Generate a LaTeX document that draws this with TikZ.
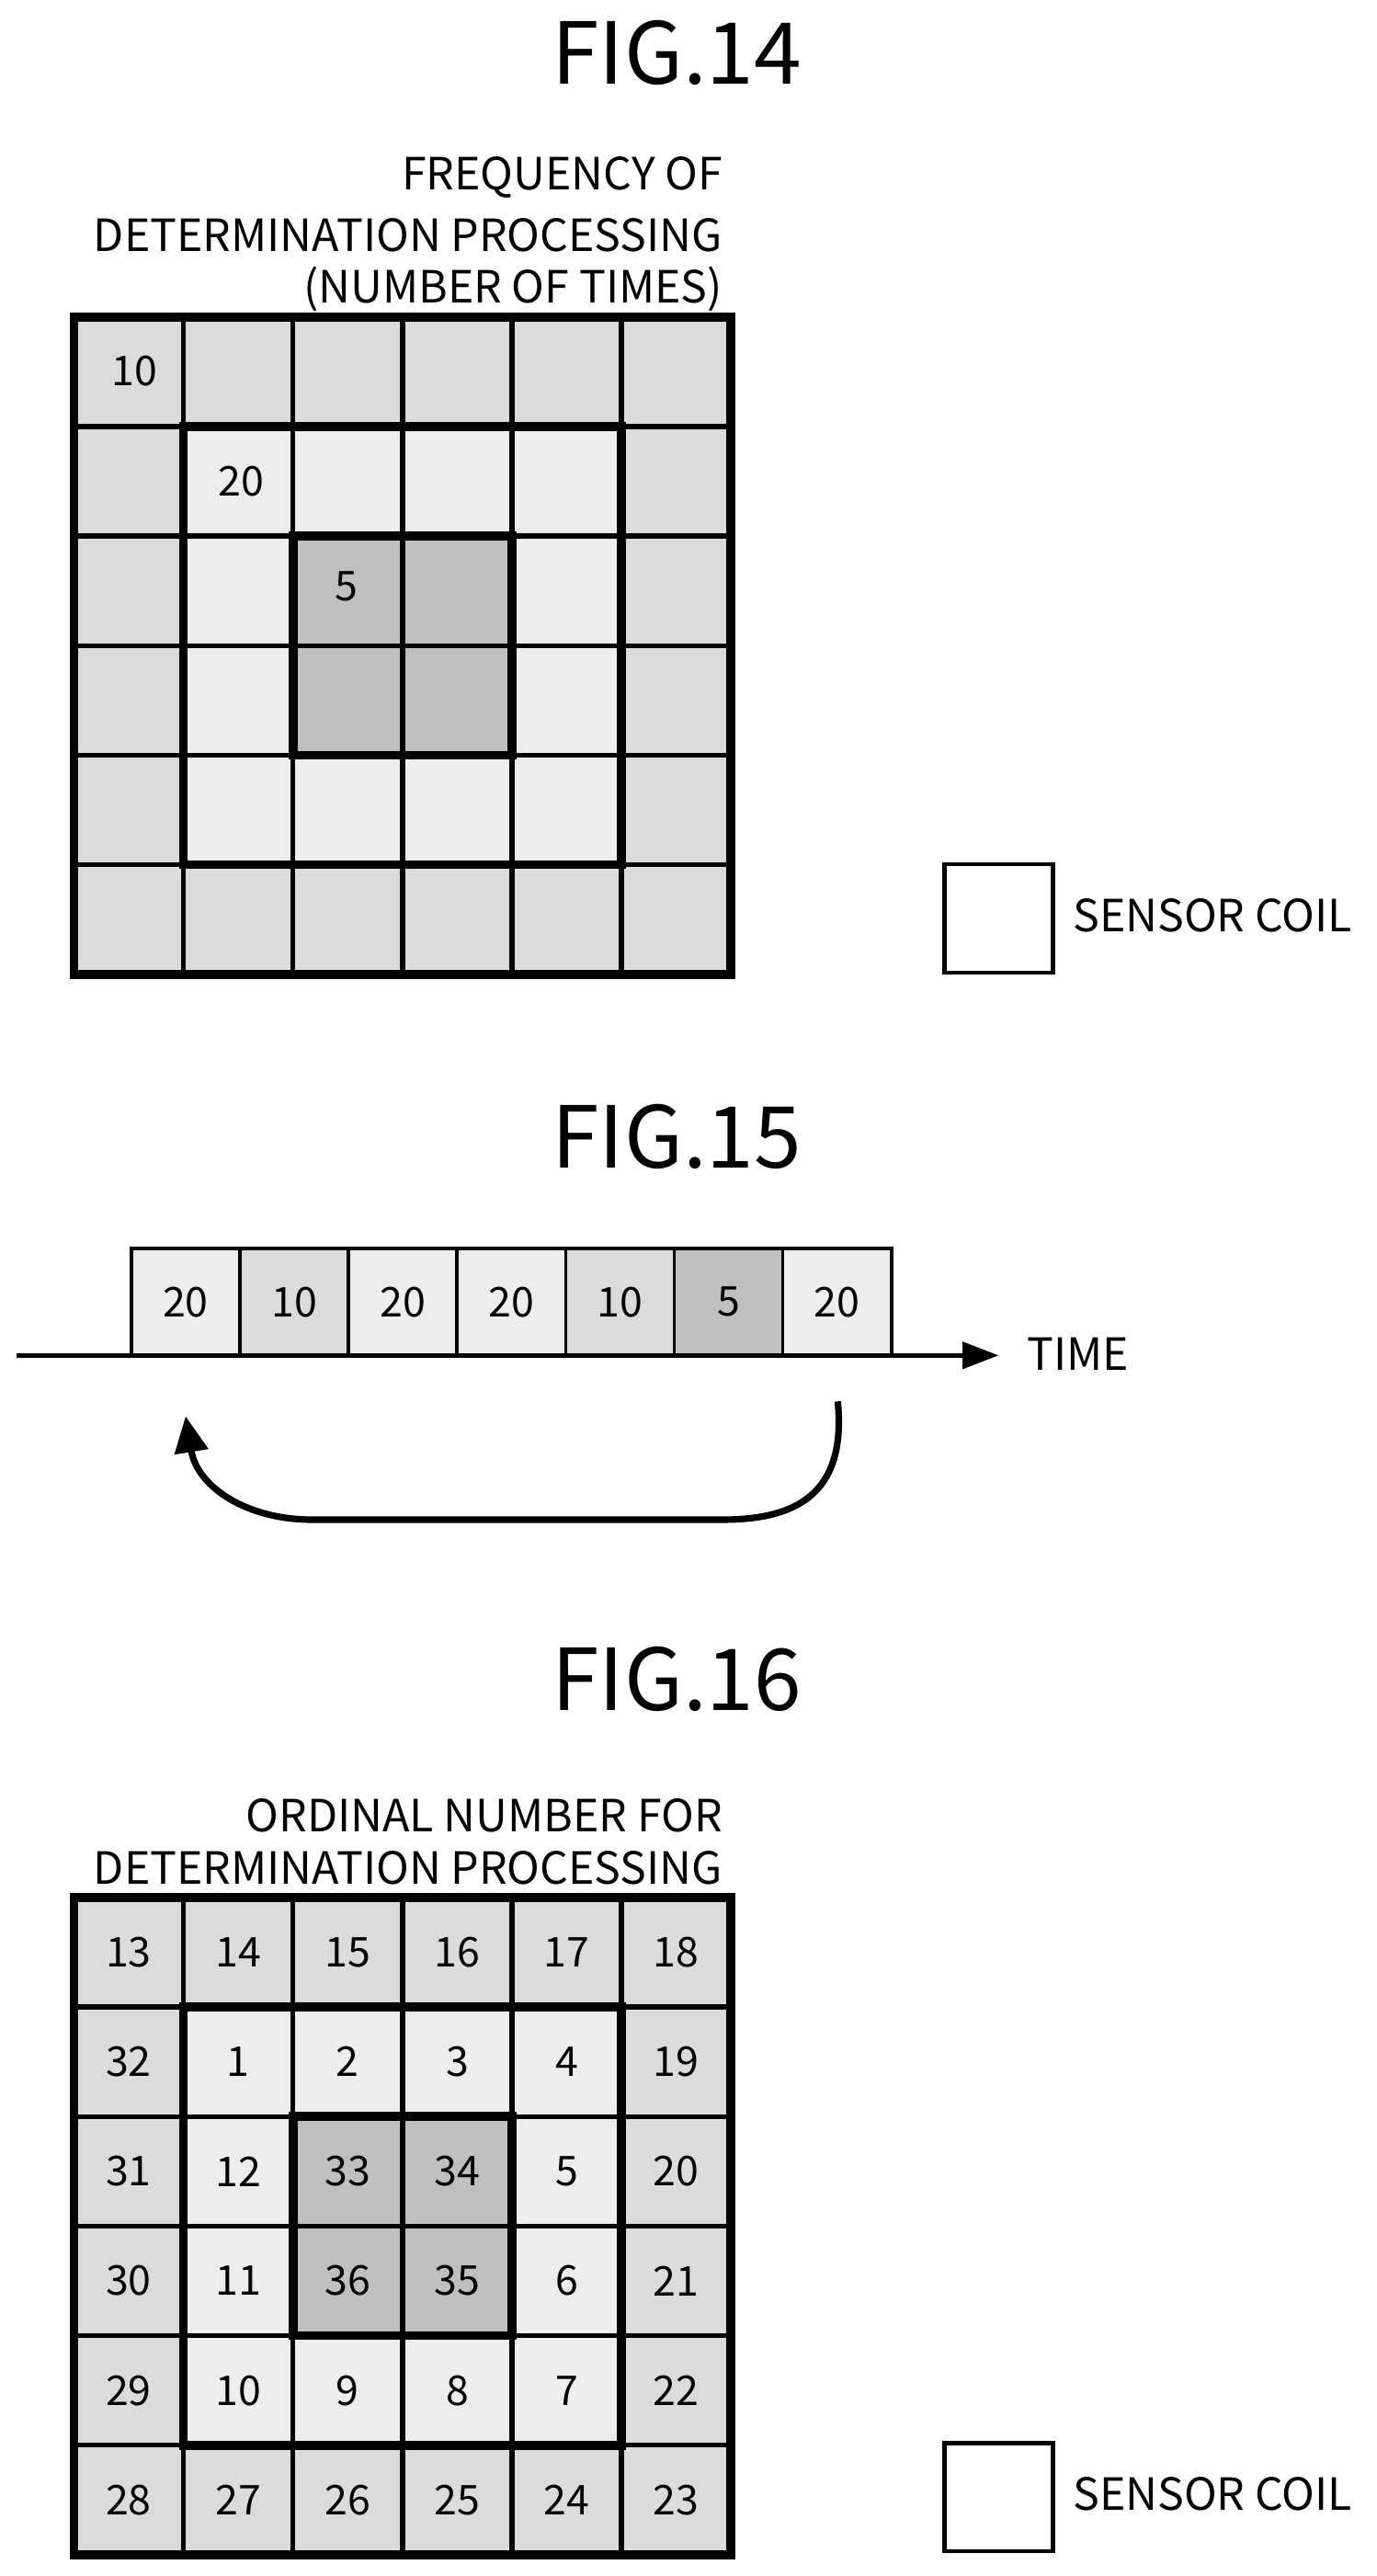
\documentclass[tikz,border=0pt]{standalone}
\usepackage{fontspec}
\setmainfont{Noto Sans CJK JP}
\usetikzlibrary{arrows.meta}
\begin{document}
\begin{tikzpicture}[x=1pt,y=-1pt,
  title/.style={font=\fontsize{52}{56}\selectfont},
  lbl/.style={font=\fontsize{27}{30}\selectfont,inner sep=0pt},
  num/.style={font=\fontsize{25}{28}\selectfont,inner sep=0pt},
  cell/.style={draw=black,line width=3pt},
  outerc/.style={cell,fill=gray!28},
  midc/.style={cell,fill=gray!14},
  cenc/.style={cell,fill=gray!50},
  thick border/.style={draw=black,line width=5.5pt}]
\useasboundingbox (0,0) rectangle (838,1568);
% ---------- FIG.14
\node[title] (t14) at (412,32) {FIG.14};
\node[lbl,anchor=east] (l1) at (440,108) {FREQUENCY OF};
\node[lbl,anchor=east] (l2) at (440,143) {DETERMINATION PROCESSING};
\node[lbl,anchor=east] (l3) at (440,176) {(NUMBER OF TIMES)};
\def\gx{45}\def\cs{66.67}
\foreach \r in {0,...,5}{\foreach \c in {0,...,5}{
  \pgfmathtruncatemacro\ring{min(min(\r,5-\r),min(\c,5-\c))}
  \ifcase\ring \def\st{outerc}\or \def\st{midc}\or \def\st{cenc}\fi
  \draw[\st] (\gx+\c*\cs,193+\r*\cs) rectangle +(\cs,\cs);
}}
\draw[thick border] (45,193) rectangle (445,593);
\draw[thick border] (111.67,259.67) rectangle (378.33,526.33);
\draw[thick border] (178.33,326.33) rectangle (311.67,459.67);
\node[num] (n10) at (82,226) {10};
\node[num] (n20) at (147,293) {20};
\node[num] (n5) at (211,357) {5};
\node[draw,line width=2.5pt,minimum size=66pt,inner sep=0pt] (leg1) at (608,559) {};
\node[lbl,anchor=west] (sc1) at (653,557) {SENSOR COIL};
% ---------- FIG.15
\node[title] (t15) at (412,692) {FIG.15};
\foreach \v [count=\i from 0] in {20,10,20,20,10,5,20}{
  \ifnum\v=5 \def\st{cenc}\else\ifnum\v=10 \def\st{outerc}\else\def\st{midc}\fi\fi
  \node[\st,line width=2pt,minimum width=66.1pt,minimum height=65pt,inner sep=0pt,num] (b\i) at (113+\i*66.1,792.5) {\v};
}
\coordinate (axs) at (10,825);
\coordinate (axe) at (608,825);
\draw[line width=3pt,-{Triangle[length=22pt,width=16pt]}] (axs) -- (axe);
\node[lbl,anchor=west] (time) at (625,824) {TIME};
\coordinate (cs) at (510,853);
\coordinate (ce) at (113,862);
\draw[line width=4pt,-{Triangle[length=22pt,width=20pt]}] (cs) .. controls (515,905) and (490,925) .. (440,925) -- (190,925) .. controls (150,925) and (120,905) .. (ce);
% ---------- FIG.16
\node[title] (t16) at (412,1022) {FIG.16};
\node[lbl,anchor=east] (m1) at (440,1105) {ORDINAL NUMBER FOR};
\node[lbl,anchor=east] (m2) at (440,1137) {DETERMINATION PROCESSING};
\foreach \r in {0,...,5}{\foreach \c in {0,...,5}{
  \pgfmathtruncatemacro\ring{min(min(\r,5-\r),min(\c,5-\c))}
  \ifcase\ring \def\st{outerc}\or \def\st{midc}\or \def\st{cenc}\fi
  \draw[\st] (\gx+\c*\cs,1155+\r*\cs) rectangle +(\cs,\cs);
}}
\draw[thick border] (45,1155) rectangle (445,1555);
\draw[thick border] (111.67,1221.67) rectangle (378.33,1488.33);
\draw[thick border] (178.33,1288.33) rectangle (311.67,1421.67);
\foreach \row [count=\r from 0] in {{13,14,15,16,17,18},{32,1,2,3,4,19},{31,12,33,34,5,20},{30,11,36,35,6,21},{29,10,9,8,7,22},{28,27,26,25,24,23}}{
  \foreach \v [count=\c from 0] in \row {
    \node[num] (g\r-\c) at (78.33+\c*\cs,1188.33+\r*\cs) {\v};
}}
\node[draw,line width=2.5pt,minimum size=66pt,inner sep=0pt] (leg2) at (608,1520) {};
\node[lbl,anchor=west] (sc2) at (653,1518) {SENSOR COIL};
\end{tikzpicture}
\end{document}
